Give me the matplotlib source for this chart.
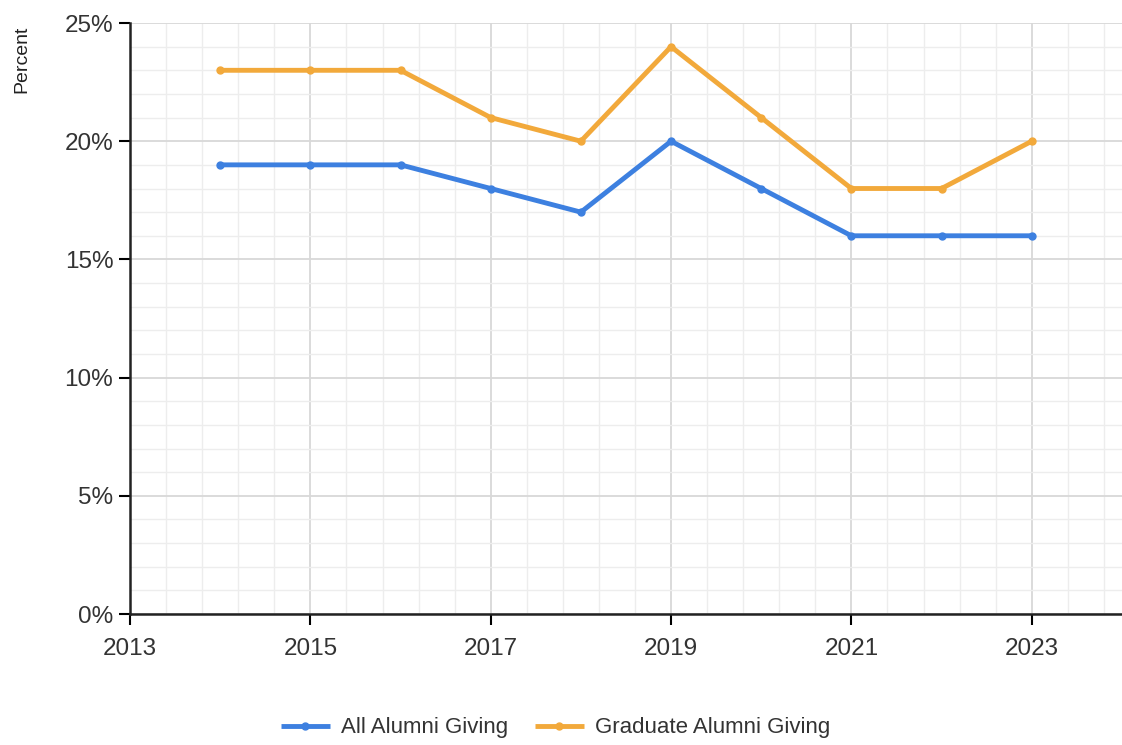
import matplotlib
matplotlib.use("Agg")
import numpy as np
import matplotlib.pyplot as plt
from matplotlib.ticker import FixedLocator, MultipleLocator, FuncFormatter

years = [2014, 2015, 2016, 2017, 2018, 2019, 2020, 2021, 2022, 2023]
all_alumni = [19, 19, 19, 18, 17, 20, 18, 16, 16, 16]
grad_alumni = [23, 23, 23, 21, 20, 24, 21, 18, 18, 20]
year_ticks = [2013, 2015, 2017, 2019, 2021, 2023]

BLUE = '#3d80e0'
ORANGE = '#f2a93b'

plt.rcParams['font.family'] = ['Liberation Sans', 'DejaVu Sans']

fig = plt.figure(figsize=(11.22, 7.45), dpi=100)
ax = fig.add_axes([0.1159, 0.1758, 0.884, 0.7933])

ax.plot(years, all_alumni, color=BLUE, lw=3.5, marker='o', ms=5,
        label='All Alumni Giving', solid_capstyle='butt', zorder=3)
ax.plot(years, grad_alumni, color=ORANGE, lw=3.5, marker='o', ms=5,
        label='Graduate Alumni Giving', solid_capstyle='butt', zorder=3)

ax.set_xlim(2013, 2024)
ax.set_ylim(0, 25)
ax.xaxis.set_major_locator(FixedLocator(year_ticks))
ax.xaxis.set_minor_locator(FixedLocator(np.arange(2013, 2024.01, 0.4)))
ax.yaxis.set_major_locator(MultipleLocator(5))
ax.yaxis.set_minor_locator(MultipleLocator(1))
ax.yaxis.set_major_formatter(FuncFormatter(lambda v, p: f'{v:.0f}%'))

ax.grid(which='major', color='#d8d8d8', lw=1.3)
ax.grid(which='minor', color='#ededed', lw=1.0)
ax.set_axisbelow(True)

for s in ['top', 'right']:
    ax.spines[s].set_visible(False)
for s in ['left', 'bottom']:
    ax.spines[s].set_linewidth(1.8)
    ax.spines[s].set_color('#222222')

ax.tick_params(which='major', length=8, width=1.5, labelsize=17.5,
               labelcolor='#333333')
ax.tick_params(axis='x', pad=9)
ax.tick_params(axis='y', pad=4)
ax.tick_params(which='minor', length=0)

fig.text(0.012, 0.966, 'Percent', rotation=90, ha='left', va='top',
         fontsize=14, color='#222222')

fig.legend(loc='center', bbox_to_anchor=(0.495, 0.023), ncol=2,
           frameon=False, fontsize=16, handlelength=2.2, columnspacing=1.2,
           handletextpad=0.5, labelcolor='#333333')

fig.savefig('out.png', dpi=100)
